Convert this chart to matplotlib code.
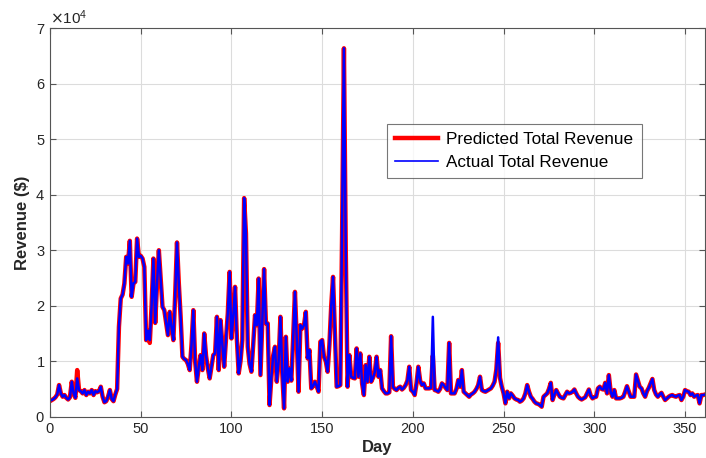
import numpy as np
import matplotlib
matplotlib.use("Agg")
import matplotlib.pyplot as plt
from matplotlib.ticker import ScalarFormatter

# actual daily revenue, in thousands of dollars, days 1..361
actual_k = [
    3.0, 3.2, 3.5, 4.0, 5.7, 4.2, 3.6, 3.9, 3.4, 3.1,
    3.5, 6.3, 4.2, 3.4, 6.9, 4.8, 4.6, 4.2, 4.8, 3.9,
    4.5, 4.2, 4.8, 3.9, 4.6, 4.4, 4.6, 5.4, 3.6, 2.6,
    2.8, 3.6, 4.8, 3.2, 2.8, 4.0, 5.0, 16.2, 21.3, 22.0,
    24.0, 28.8, 27.6, 31.7, 21.6, 24.0, 24.3, 32.1, 28.8, 29.0,
    28.5, 27.0, 13.8, 15.5, 13.8, 20.0, 28.5, 16.9, 24.0, 30.0,
    25.0, 19.8, 19.2, 17.0, 14.7, 18.9, 16.0, 13.8, 22.0, 31.4,
    24.0, 18.0, 10.8, 10.4, 10.2, 9.5, 8.4, 13.0, 19.2, 10.0,
    6.3, 9.0, 11.1, 8.4, 15.0, 11.0, 8.7, 6.9, 9.0, 11.1,
    11.4, 18.0, 8.4, 17.4, 13.0, 9.0, 14.0, 18.6, 26.1, 14.1,
    18.0, 23.4, 14.0, 7.8, 10.0, 13.8, 39.4, 33.0, 12.6, 9.5,
    8.1, 13.0, 18.3, 16.5, 24.9, 7.5, 17.0, 26.6, 16.8, 16.8,
    2.1, 7.0, 11.0, 12.6, 6.3, 10.0, 18.0, 8.0, 1.5, 14.4,
    6.3, 8.7, 6.5, 14.0, 22.5, 14.0, 4.5, 16.5, 15.9, 16.5,
    18.9, 10.5, 12.0, 5.1, 5.5, 6.3, 5.5, 4.5, 13.5, 13.8,
    10.8, 10.0, 8.1, 13.0, 20.0, 25.2, 15.0, 5.4, 5.5, 5.7,
    35.0, 66.4, 30.0, 5.4, 11.1, 7.2, 7.0, 6.9, 12.3, 7.2,
    11.4, 6.0, 3.9, 9.3, 6.3, 10.8, 6.3, 7.0, 8.0, 10.8,
    7.2, 8.4, 5.1, 4.6, 4.2, 4.2, 4.4, 14.5, 5.4, 5.0,
    4.8, 5.2, 5.4, 4.9, 5.2, 5.7, 6.5, 9.0, 4.8, 4.5,
    3.9, 6.0, 9.0, 6.5, 5.7, 6.0, 5.1, 5.1, 5.1, 5.2,
    18.0, 4.8, 4.7, 4.5, 5.0, 6.0, 5.7, 5.2, 4.8, 13.3,
    4.2, 4.2, 4.2, 5.0, 6.6, 5.4, 8.4, 4.5, 4.2, 3.9,
    3.6, 4.0, 4.2, 4.5, 5.0, 5.7, 7.2, 4.8, 4.6, 4.5,
    4.7, 4.9, 5.1, 5.6, 6.3, 8.5, 14.3, 7.0, 5.4, 4.2,
    2.4, 4.5, 3.3, 4.2, 3.8, 3.3, 3.1, 3.0, 2.7, 2.9,
    3.3, 4.2, 5.7, 4.5, 3.6, 3.2, 2.7, 2.4, 2.3, 2.1,
    1.8, 3.6, 3.9, 4.2, 5.0, 6.1, 3.0, 4.0, 4.8, 4.2,
    3.6, 3.4, 3.3, 3.9, 4.5, 4.2, 4.3, 4.5, 4.9, 4.2,
    3.6, 3.3, 3.1, 3.3, 3.5, 4.2, 4.9, 3.8, 3.3, 3.5,
    3.6, 5.1, 5.4, 5.0, 4.9, 6.1, 4.2, 7.5, 4.5, 3.6,
    4.8, 3.3, 3.3, 3.3, 3.4, 3.6, 4.5, 5.5, 4.5, 3.6,
    3.6, 3.6, 7.6, 6.5, 5.4, 5.1, 4.2, 3.6, 4.6, 5.2,
    6.0, 6.8, 4.8, 4.0, 3.6, 4.0, 4.3, 3.6, 3.0, 3.3,
    3.6, 3.8, 3.9, 3.7, 3.6, 3.8, 3.9, 3.0, 3.6, 4.8,
    4.6, 4.5, 3.9, 4.2, 3.6, 3.8, 3.9, 2.4, 3.9, 3.9,
    4.0,
]

# days where the prediction visibly differs from the actual value
pred_diff_k = {15: 8.4, 55: 13.3, 161: 33.0, 211: 11.0, 247: 13.3}

days = np.arange(1, len(actual_k) + 1)
actual = np.array(actual_k) * 1000
predicted = actual.copy()
for d, v in pred_diff_k.items():
    predicted[d - 1] = v * 1000

plt.rcParams['font.family'] = ['Liberation Sans', 'DejaVu Sans']

fig = plt.figure(figsize=(7.06, 4.58), dpi=100)
ax = fig.add_axes([0.0708, 0.0902, 0.9278, 0.848])

ax.plot(days, predicted, color='#ff0000', linewidth=3.2, label='Predicted Total Revenue')
ax.plot(days, actual, color='#0000ff', linewidth=1.8, label='Actual Total Revenue')

ax.set_xlim(0, 361)
ax.set_ylim(0, 70000)
ax.set_xticks(np.arange(0, 351, 50))
ax.set_yticks(np.arange(0, 70001, 10000))

fmt = ScalarFormatter(useMathText=True)
fmt.set_powerlimits((0, 0))
ax.yaxis.set_major_formatter(fmt)
ax.yaxis.get_offset_text().set_fontsize(11)
ax.yaxis.get_offset_text().set_color('#262626')

ax.grid(True, color='#dcdcdc', linewidth=0.8)
ax.set_axisbelow(True)
for s in ax.spines.values():
    s.set_color('#555555')
    s.set_linewidth(0.8)
ax.tick_params(direction='in', top=True, right=True, length=4, width=0.8,
               colors='#555555', labelcolor='#262626', labelsize=10.5)

ax.set_xlabel('Day', fontsize=12, fontweight='bold', color='#262626', labelpad=3)
ax.set_ylabel('Revenue ($)', fontsize=12, fontweight='bold', color='#262626', labelpad=4)

leg = ax.legend(loc='upper left', bbox_to_anchor=(0.514, 0.754), fontsize=12.3,
                frameon=True, fancybox=False, edgecolor='#555555',
                handlelength=2.5, borderpad=0.5, labelspacing=0.42, handletextpad=0.5,
                borderaxespad=0)
leg.get_frame().set_linewidth(0.8)
# the legend handle of the actual series is drawn thin, as in the reference
leg.get_lines()[1].set_linewidth(1.2)

fig.savefig('out.png', dpi=100)
